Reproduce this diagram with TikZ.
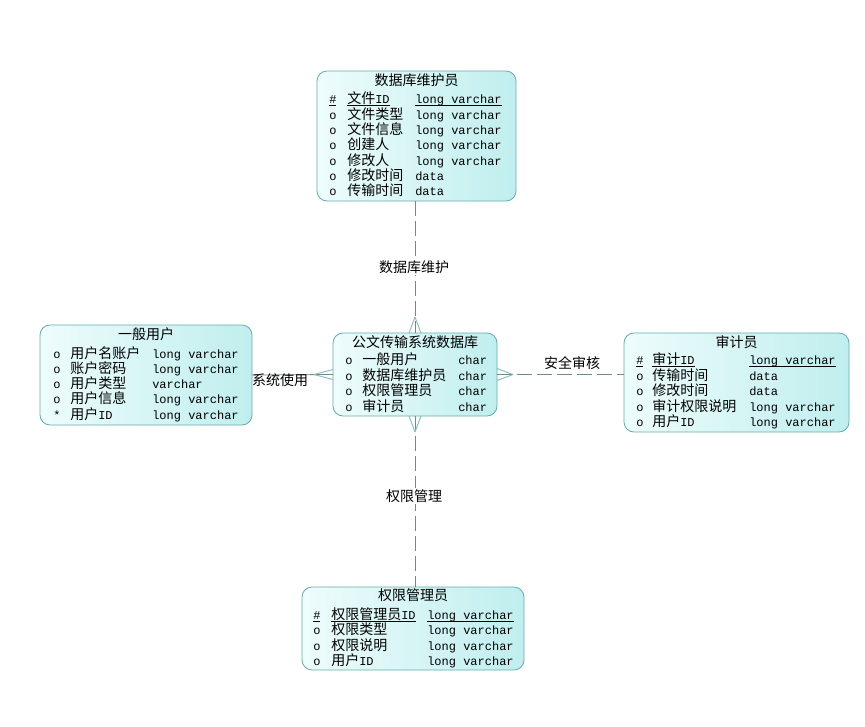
\documentclass[tikz,border=0pt]{standalone}
\usepackage{fontspec}
\newfontfamily\cjk{Noto Sans CJK SC}
\newfontfamily\lat{Liberation Mono}
\usetikzlibrary{calc}
\definecolor{boxline}{RGB}{105,170,170}
\definecolor{boxL}{RGB}{238,252,252}
\definecolor{boxR}{RGB}{192,238,238}
\definecolor{connc}{RGB}{110,140,140}
\definecolor{footc}{RGB}{135,190,190}
\newcommand\zh[1]{{\cjk\fontsize{10.5}{12}\selectfont #1}}
\newcommand\ulx[1]{\leavevmode\setbox0\hbox{#1}\rlap{\rule[-1.6pt]{\wd0}{0.45pt}}\box0}
\newcommand\erow[8]{%
  \node[cell] (#1m) at (#3,{#2+5}) {#6};
  \node[cell] (#1n) at (#4,{#2+5}) {#7};
  \node[cell] (#1t) at (#5,{#2+5}) {#8};}
\tikzset{
  ebox/.style={draw=boxline, line width=0.6pt, rounded corners=7.5pt, left color=boxL, right color=boxR, inner sep=0pt, outer sep=0pt},
  cell/.style={anchor=base west, inner sep=0pt, font=\lat\fontsize{9}{10}\selectfont},
  ttl/.style={anchor=center, inner sep=0pt, font=\cjk\fontsize{10.5}{12}\selectfont},
  lbl/.style={anchor=center, inner sep=1pt, font=\cjk\fontsize{10.5}{12}\selectfont},
  connline/.style={draw=connc, line width=0.6pt},
  dashline/.style={draw=connc, line width=0.6pt, dash pattern=on 11pt off 4pt},
  footline/.style={draw=footc, line width=0.7pt}
}
\begin{document}
\begin{tikzpicture}[x=0.75pt,y=-0.75pt]
\useasboundingbox[fill=white] (0,0) rectangle (865,726);

% entity boxes
\node[ebox, minimum width=149.25pt, minimum height=97.5pt] (top) at (416.5,136) {};
\node[ebox, minimum width=159pt, minimum height=75pt] (left) at (146,375) {};
\node[ebox, minimum width=123pt, minimum height=62.25pt] (center) at (415,374.5) {};
\node[ebox, minimum width=168.75pt, minimum height=74.25pt] (right) at (736.5,382.5) {};
\node[ebox, minimum width=166.5pt, minimum height=62.25pt] (bottom) at (413,628.5) {};

% connectors
\draw[dashline] (center.north |- top.south) -- (center.north);
\draw[footline] ($(center.north)+(0,-16)$) -- ($(center.north)+(-6,0)$);
\draw[footline] ($(center.north)+(0,-16)$) -- ($(center.north)+(6,0)$);

\draw[connline] (left.east) -- (center.west);
\draw[footline] ($(center.west)+(-19,0)$) -- ($(center.west)+(0,-5)$);
\draw[footline] ($(center.west)+(-19,0)$) -- ($(center.west)+(0,5)$);

\draw[dashline] (center.east) -- (center.east -| right.west);
\draw[footline] ($(center.east)+(16,0)$) -- ($(center.east)+(0,-6)$);
\draw[footline] ($(center.east)+(16,0)$) -- ($(center.east)+(0,6)$);

\draw[dashline] (center.south) -- (center.south |- bottom.north);
\draw[footline] ($(center.south)+(0,16)$) -- ($(center.south)+(-6,0)$);
\draw[footline] ($(center.south)+(0,16)$) -- ($(center.south)+(6,0)$);

% connector labels
\node[lbl, fill=white] (lab1) at (414,267) {数据库维护};
\node[lbl] (lab2) at (280,380) {系统使用};
\node[lbl] (lab3) at (572,363) {安全审核};
\node[lbl, fill=white] (lab4) at (414,496) {权限管理};

% top entity
\node[ttl] (topT) at (416.5,80) {数据库维护员};
\erow{t1}{98}{329}{347}{415}{\ulx{\#}}{\ulx{\zh{文件}ID}}{\ulx{long varchar}}
\erow{t2}{114}{329}{347}{415}{o}{\zh{文件类型}}{long varchar}
\erow{t3}{129}{329}{347}{415}{o}{\zh{文件信息}}{long varchar}
\erow{t4}{144}{329}{347}{415}{o}{\zh{创建人}}{long varchar}
\erow{t5}{160}{329}{347}{415}{o}{\zh{修改人}}{long varchar}
\erow{t6}{175}{329}{347}{415}{o}{\zh{修改时间}}{data}
\erow{t7}{190}{329}{347}{415}{o}{\zh{传输时间}}{data}

% left entity
\node[ttl] (leftT) at (146,334) {一般用户};
\erow{l1}{353}{53}{70}{152}{o}{\zh{用户名账户}}{long varchar}
\erow{l2}{368}{53}{70}{152}{o}{\zh{账户密码}}{long varchar}
\erow{l3}{383}{53}{70}{152}{o}{\zh{用户类型}}{varchar}
\erow{l4}{398}{53}{70}{152}{o}{\zh{用户信息}}{long varchar}
\erow{l5}{414}{53}{70}{152}{*}{\zh{用户}ID}{long varchar}

% center entity
\node[ttl] (centerT) at (415,342) {公文传输系统数据库};
\erow{c1}{359}{345}{362}{458}{o}{\zh{一般用户}}{char}
\erow{c2}{375}{345}{362}{458}{o}{\zh{数据库维护员}}{char}
\erow{c3}{390}{345}{362}{458}{o}{\zh{权限管理员}}{char}
\erow{c4}{406}{345}{362}{458}{o}{\zh{审计员}}{char}

% right entity
\node[ttl] (rightT) at (736.5,342) {审计员};
\erow{r1}{359}{636}{652}{749}{\ulx{\#}}{\ulx{\zh{审计}ID}}{\ulx{long varchar}}
\erow{r2}{375}{636}{652}{749}{o}{\zh{传输时间}}{data}
\erow{r3}{390}{636}{652}{749}{o}{\zh{修改时间}}{data}
\erow{r4}{406}{636}{652}{749}{o}{\zh{审计权限说明}}{long varchar}
\erow{r5}{421}{636}{652}{749}{o}{\zh{用户}ID}{long varchar}

% bottom entity
\node[ttl] (bottomT) at (413,595) {权限管理员};
\erow{b1}{614}{313}{331}{427}{\ulx{\#}}{\ulx{\zh{权限管理员}ID}}{\ulx{long varchar}}
\erow{b2}{629}{313}{331}{427}{o}{\zh{权限类型}}{long varchar}
\erow{b3}{645}{313}{331}{427}{o}{\zh{权限说明}}{long varchar}
\erow{b4}{660}{313}{331}{427}{o}{\zh{用户}ID}{long varchar}
\end{tikzpicture}
\end{document}
